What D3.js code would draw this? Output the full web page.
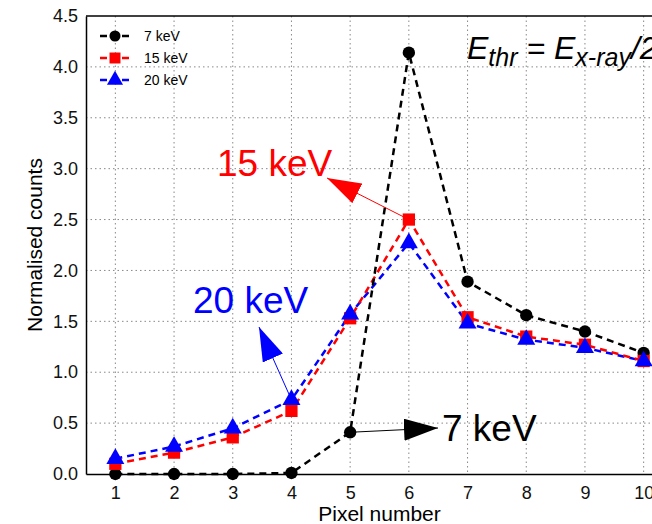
<!DOCTYPE html>
<html>
<head>
  <meta charset="utf-8">
  <title>Normalised counts</title>
  <script src="https://d3js.org/d3.v7.min.js"></script>
  <style>
    body { margin: 0; background: white; }
    svg { font-family: "Liberation Sans", Arial, sans-serif; }
  </style>
</head>
<body>
<div id="output"></div>

<script type="text/javascript">

  var pixels = [1, 2, 3, 4, 5, 6, 7, 8, 9, 10];
  var kev7  = [0.0, 0.0, 0.0, 0.01, 0.41, 4.14, 1.89, 1.56, 1.40, 1.19];
  var kev15 = [0.10, 0.21, 0.36, 0.62, 1.53, 2.50, 1.54, 1.35, 1.27, 1.11];
  var kev20 = [0.15, 0.27, 0.45, 0.73, 1.57, 2.27, 1.48, 1.32, 1.24, 1.11];
  var seriesNames = ["7 keV", "15 keV", "20 keV"];
  var yTicks = [0, 0.5, 1, 1.5, 2, 2.5, 3, 3.5, 4, 4.5];

  var w = 652;
  var h = 524;
  var margin = {top: 16, left: 86};
  var plotW = 587, plotH = 458;

  var x = d3.scaleLinear().domain([0.5, 10.5]).range([0, plotW]);
  var y = d3.scaleLinear().domain([0, 4.5]).range([plotH, 0]);

  var svg = d3.select("#output").append("svg")
          .attr("width", w)
          .attr("height", h);

  var defs = svg.append("defs");
  [["red", "#ff0000"], ["blue", "#0000ff"], ["black", "#000000"]].forEach(function(c){
    defs.append("marker")
        .attr("id", "head-" + c[0])
        .attr("viewBox", "0 0 34 22")
        .attr("refX", 34).attr("refY", 11)
        .attr("markerUnits", "userSpaceOnUse")
        .attr("markerWidth", 34).attr("markerHeight", 22)
        .attr("orient", "auto")
        .append("path")
        .attr("d", "M0,0 L34,11 L0,22 Z")
        .attr("fill", c[1]);
  });

  var chart = svg.append("g")
          .attr("transform", "translate(" + margin.left + "," + margin.top + ")");

  // grid
  chart.selectAll(".vgrid").data(pixels).enter().append("line")
      .attr("x1", function(d){ return x(d); }).attr("x2", function(d){ return x(d); })
      .attr("y1", 0).attr("y2", plotH)
      .attr("stroke", "#888").attr("stroke-width", 1).attr("stroke-dasharray", "1.5,3");
  chart.selectAll(".hgrid").data(yTicks.slice(1, -1)).enter().append("line")
      .attr("x1", 0).attr("x2", plotW)
      .attr("y1", function(d){ return y(d); }).attr("y2", function(d){ return y(d); })
      .attr("stroke", "#888").attr("stroke-width", 1).attr("stroke-dasharray", "1.5,3");

  var xAxis = d3.axisBottom(x).tickValues(pixels).tickSize(0).tickPadding(12);
  var yAxis = d3.axisLeft(y).tickValues(yTicks).tickSize(0).tickPadding(8)
          .tickFormat(d3.format(".1f"));

  var gx = chart.append("g").attr("transform", "translate(0," + plotH + ")").call(xAxis);
  var gy = chart.append("g").call(yAxis);
  [gx, gy].forEach(function(g){
    g.select(".domain").attr("stroke", "#000").attr("stroke-width", 1.5);
    g.selectAll("text").attr("font-size", 18).attr("fill", "#111")
        .attr("font-family", "Liberation Sans, Arial, sans-serif");
  });
  // top border
  chart.append("line").attr("x1", 0).attr("x2", plotW).attr("y1", 0).attr("y2", 0)
      .attr("stroke", "#000").attr("stroke-width", 1.5);

  svg.append("text")
      .attr("transform", "translate(42," + (margin.top + plotH / 2) + ") rotate(-90)")
      .attr("text-anchor", "middle")
      .attr("font-size", 21)
      .text("Normalised counts");
  svg.append("text")
      .attr("x", margin.left + plotW / 2).attr("y", 521)
      .attr("text-anchor", "middle")
      .attr("font-size", 21)
      .text("Pixel number");

  var series = [
    {name: seriesNames[0], values: kev7, color: "#000000", shape: d3.symbolCircle, size: 120},
    {name: seriesNames[1], values: kev15, color: "#ff0000", shape: d3.symbolSquare, size: 150},
    {name: seriesNames[2], values: kev20, color: "#0000ff", shape: d3.symbolTriangle, size: 140}
  ];

  var line = d3.line()
          .x(function(d, i){ return x(pixels[i]); })
          .y(function(d){ return y(d); });

  series.slice().reverse().forEach(function(s){
    chart.append("path")
        .datum(s.values)
        .attr("d", line)
        .attr("fill", "none")
        .attr("stroke", s.color)
        .attr("stroke-width", 2.5)
        .attr("stroke-dasharray", "7,5");
  });
  series.forEach(function(s){
    chart.selectAll(".pt-" + s.name.replace(" ", ""))
        .data(s.values).enter().append("path")
        .attr("transform", function(d, i){ return "translate(" + x(pixels[i]) + "," + y(d) + ")"; })
        .attr("d", d3.symbol().type(s.shape).size(s.size))
        .attr("fill", s.color);
  });

  // legend
  var legend = chart.append("g").attr("transform", "translate(14,20)");
  series.forEach(function(s, i){
    var g = legend.append("g").attr("transform", "translate(0," + (i * 22) + ")");
    g.append("line").attr("x1", 0).attr("x2", 30).attr("y1", 0).attr("y2", 0)
        .attr("stroke", s.color).attr("stroke-width", 2.5).attr("stroke-dasharray", "7,4");
    g.append("path").attr("transform", "translate(15,0)")
        .attr("d", d3.symbol().type(s.shape).size(s.size * 0.8))
        .attr("fill", s.color);
    g.append("text").attr("x", 44).attr("y", 5).attr("font-size", 14).text(s.name);
  });

  // annotations
  var notes = [
    {text: "15 keV", color: "#ff0000", head: "red", px: 6, v: kev15[5], tx: 217, ty: 176, ax: 327, ay: 178},
    {text: "20 keV", color: "#0000ff", head: "blue", px: 4, v: kev20[3], tx: 193, ty: 313, ax: 259, ay: 327},
    {text: "7 keV", color: "#000000", head: "black", px: 5, v: kev7[4], tx: 442, ty: 441, ax: 438, ay: 428}
  ];
  notes.forEach(function(n){
    svg.append("line")
        .attr("x1", margin.left + x(n.px)).attr("y1", margin.top + y(n.v))
        .attr("x2", n.ax).attr("y2", n.ay)
        .attr("stroke", n.color).attr("stroke-width", 1)
        .attr("marker-end", "url(#head-" + n.head + ")");
    svg.append("text")
        .attr("x", n.tx).attr("y", n.ty)
        .attr("font-size", 37)
        .attr("fill", n.color)
        .text(n.text);
  });

  var eq = svg.append("text").attr("x", 467).attr("y", 59)
      .attr("font-size", 32).attr("font-style", "italic");
  eq.append("tspan").text("E");
  eq.append("tspan").attr("font-size", 25).attr("dy", 7).text("thr");
  eq.append("tspan").attr("dy", -7).text(" = E");
  eq.append("tspan").attr("font-size", 25).attr("dy", 7).text("x-ray");
  eq.append("tspan").attr("dy", -7).text("/2");

</script>
</body>
</html>
